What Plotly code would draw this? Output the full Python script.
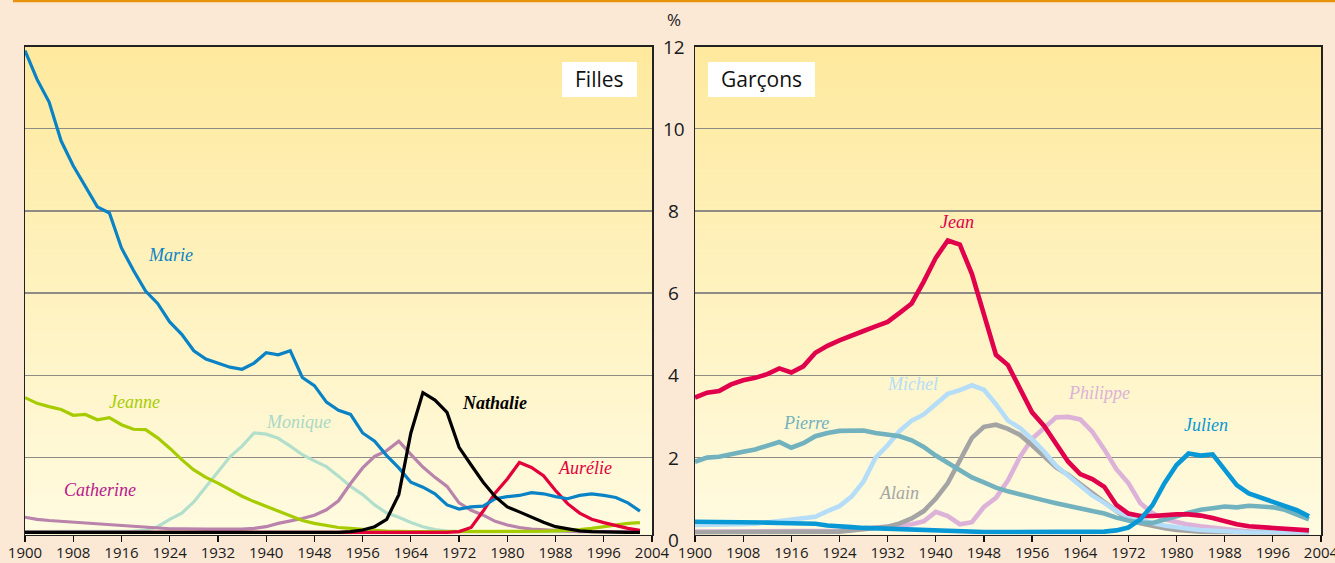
import plotly.graph_objects as go

# ---------------- data (share of births, %) ----------------
YEARS = list(range(1900, 2003, 2))
TICK_YEARS = list(range(1900, 2005, 8))
Y_TICKS = [0, 2, 4, 6, 8, 10, 12]

# Filles
marie = [11.9, 11.2, 10.65, 9.7, 9.1, 8.6, 8.1, 7.95, 7.1, 6.55,
         6.05, 5.75, 5.3, 5.0, 4.6, 4.4, 4.3, 4.2, 4.15, 4.3,
         4.55, 4.5, 4.6, 3.95, 3.75, 3.35, 3.15, 3.05, 2.6, 2.4,
         2.05, 1.75, 1.4, 1.28, 1.12, 0.85, 0.75, 0.8, 0.82, 1.0,
         1.05, 1.08, 1.15, 1.12, 1.05, 1.0, 1.08, 1.12, 1.08, 1.03,
         0.9, 0.7]
jeanne = [3.46, 3.32, 3.24, 3.17, 3.03, 3.05, 2.92, 2.97, 2.8, 2.69,
          2.68, 2.48, 2.23, 1.95, 1.7, 1.52, 1.38, 1.22, 1.06, 0.93,
          0.81, 0.7, 0.57, 0.47, 0.4, 0.35, 0.3, 0.28, 0.25, 0.23,
          0.21, 0.2, 0.2, 0.2, 0.2, 0.2, 0.2, 0.2, 0.2, 0.2,
          0.2, 0.2, 0.2, 0.21, 0.22, 0.23, 0.25, 0.28, 0.32, 0.37,
          0.4, 0.42]
monique = [0.2, 0.2, 0.2, 0.2, 0.2, 0.2, 0.2, 0.2, 0.2, 0.21,
           0.23, 0.32, 0.5, 0.65, 0.92, 1.28, 1.65, 2.02, 2.28, 2.6,
           2.57, 2.47, 2.28, 2.07, 1.92, 1.78, 1.55, 1.3, 1.1, 0.85,
           0.65, 0.55, 0.42, 0.32, 0.25, 0.21, 0.2, 0.2, 0.2, 0.2,
           0.2, 0.2, 0.2, 0.2, 0.2, 0.2, 0.2, 0.2, 0.2, 0.2,
           0.2, 0.2]
catherine = [0.55, 0.5, 0.47, 0.45, 0.42, 0.41, 0.38, 0.36, 0.34, 0.32,
             0.3, 0.28, 0.27, 0.27, 0.26, 0.26, 0.26, 0.26, 0.26, 0.28,
             0.32, 0.4, 0.45, 0.52, 0.6, 0.73, 0.95, 1.37, 1.75, 2.03,
             2.17, 2.4, 2.08, 1.77, 1.52, 1.3, 0.9, 0.72, 0.6, 0.45,
             0.36, 0.3, 0.26, 0.24, 0.22, 0.21, 0.2, 0.2, 0.2, 0.2,
             0.2, 0.2]
nathalie = [0.18, 0.18, 0.18, 0.18, 0.18, 0.18, 0.18, 0.18, 0.18, 0.18,
            0.18, 0.18, 0.18, 0.18, 0.18, 0.18, 0.18, 0.18, 0.18, 0.18,
            0.18, 0.18, 0.18, 0.18, 0.18, 0.18, 0.18, 0.2, 0.24, 0.32,
            0.5, 1.1, 2.6, 3.58, 3.4, 3.1, 2.25, 1.82, 1.4, 1.05,
            0.8, 0.68, 0.55, 0.43, 0.32, 0.27, 0.22, 0.2, 0.19, 0.18,
            0.18, 0.18]
aurelie = [0.18, 0.18, 0.18, 0.18, 0.18, 0.18, 0.18, 0.18, 0.18, 0.18,
           0.18, 0.18, 0.18, 0.18, 0.18, 0.18, 0.18, 0.18, 0.18, 0.18,
           0.18, 0.18, 0.18, 0.18, 0.18, 0.18, 0.18, 0.18, 0.18, 0.18,
           0.18, 0.18, 0.18, 0.18, 0.18, 0.18, 0.2, 0.3, 0.7, 1.14,
           1.48, 1.88, 1.76, 1.56, 1.2, 0.88, 0.65, 0.5, 0.42, 0.34,
           0.28, 0.23]

# Garçons
jean = [3.46, 3.58, 3.62, 3.78, 3.88, 3.94, 4.03, 4.17, 4.07, 4.22,
        4.55, 4.72, 4.85, 4.98, 5.08, 5.19, 5.3, 5.52, 5.75, 6.28,
        6.86, 7.28, 7.18, 6.47, 5.5, 4.5, 4.25, 3.68, 3.1, 2.77,
        2.35, 1.9, 1.6, 1.48, 1.29, 0.85, 0.64, 0.58, 0.58, 0.61,
        0.62, 0.62, 0.59, 0.53, 0.45, 0.38, 0.33, 0.31, 0.29, 0.27,
        0.25, 0.23]
pierre = [1.9, 2.0, 2.02, 2.07, 2.14, 2.2, 2.28, 2.38, 2.24, 2.35,
          2.52, 2.6, 2.65, 2.66, 2.66, 2.6, 2.56, 2.52, 2.42, 2.26,
          2.05, 1.88, 1.68, 1.52, 1.4, 1.27, 1.18, 1.1, 1.03, 0.96,
          0.89, 0.82, 0.76, 0.7, 0.64, 0.54, 0.47, 0.42, 0.41, 0.48,
          0.57, 0.66, 0.73, 0.77, 0.81, 0.79, 0.83, 0.81, 0.79, 0.73,
          0.62, 0.5]
michel = [0.36, 0.36, 0.37, 0.37, 0.38, 0.39, 0.42, 0.45, 0.49, 0.52,
          0.56, 0.7, 0.82, 1.05, 1.42, 2.0, 2.3, 2.65, 2.9, 3.05,
          3.3, 3.55, 3.64, 3.76, 3.65, 3.3, 2.9, 2.72, 2.45, 2.15,
          1.8, 1.55, 1.3, 1.08, 0.9, 0.7, 0.57, 0.48, 0.41, 0.35,
          0.3, 0.27, 0.24, 0.22, 0.2, 0.19, 0.18, 0.18, 0.18, 0.18,
          0.18, 0.18]
alain = [0.18, 0.18, 0.18, 0.18, 0.18, 0.18, 0.18, 0.18, 0.18, 0.18,
         0.18, 0.18, 0.2, 0.23, 0.26, 0.3, 0.32, 0.4, 0.52, 0.7,
         1.0, 1.38, 1.94, 2.48, 2.75, 2.8, 2.7, 2.55, 2.3, 2.02,
         1.76, 1.58, 1.35, 1.13, 0.92, 0.7, 0.5, 0.4, 0.33, 0.28,
         0.24, 0.21, 0.2, 0.19, 0.18, 0.18, 0.18, 0.18, 0.18, 0.18,
         0.18, 0.18]
philippe = [0.2, 0.2, 0.2, 0.2, 0.2, 0.2, 0.2, 0.2, 0.2, 0.2,
            0.2, 0.2, 0.22, 0.25, 0.27, 0.3, 0.32, 0.35, 0.38, 0.45,
            0.68, 0.58, 0.38, 0.43, 0.8, 1.02, 1.45, 2.02, 2.46, 2.73,
            2.98, 2.99, 2.93, 2.63, 2.2, 1.72, 1.38, 0.89, 0.65, 0.5,
            0.43, 0.37, 0.33, 0.29, 0.26, 0.23, 0.21, 0.2, 0.19, 0.18,
            0.18, 0.18]
julien = [0.44, 0.44, 0.43, 0.43, 0.43, 0.42, 0.42, 0.41, 0.4, 0.41,
          0.39, 0.35, 0.32, 0.31, 0.29, 0.28, 0.27, 0.25, 0.23, 0.22,
          0.21, 0.2, 0.19, 0.19, 0.19, 0.19, 0.19, 0.19, 0.19, 0.19,
          0.19, 0.19, 0.19, 0.19, 0.2, 0.23, 0.3, 0.5, 0.84, 1.38,
          1.82, 2.1, 2.05, 2.08, 1.7, 1.33, 1.13, 1.02, 0.93, 0.83,
          0.72, 0.57]

# name, values, line colour, label text, label colour, label year, label value
GIRLS = [
    ("Monique", monique, "#b2dfcc", "Monique", "#a9d8c6", 1945.3, 2.86),
    ("Catherine", catherine, "#b983ab", "Catherine", "#b8198c", 1912.4, 1.21),
    ("Jeanne", jeanne, "#a6cc00", "Jeanne", "#a6cc00", 1918.2, 3.35),
    ("Aurélie", aurelie, "#e3003a", "Aurélie", "#e3003a", 1992.9, 1.75),
    ("Marie", marie, "#0a82c6", "Marie", "#0a82c6", 1924.2, 6.92),
    ("Nathalie", nathalie, "#000000", "<b>Nathalie</b>", "#000000", 1977.9, 3.33),
]
BOYS = [
    ("Philippe", philippe, "#dcb2d8", "Philippe", "#dcb2d8", 1967.1, 3.57),
    ("Alain", alain, "#a4a4a4", "Alain", "#a4a4a4", 1933.9, 1.14),
    ("Michel", michel, "#b5ddf8", "Michel", "#b5ddf8", 1936.2, 3.79),
    ("Pierre", pierre, "#71b2be", "Pierre", "#71b2be", 1918.4, 2.84),
    ("Jean", jean, "#e0004c", "Jean", "#e0004c", 1943.5, 7.74),
    ("Julien", julien, "#0898d6", "Julien", "#0898d6", 1984.9, 2.79),
]

# ---------------- layout geometry ----------------
W, H = 1335, 563
Y_RANGE = [0.13, 12]
X_RANGE = [1900, 2004]
XDOM1 = [25 / W, 652 / W]
XDOM2 = [695 / W, 1321 / W]
YDOM = [(H - 534.5) / H, (H - 46.5) / H]

fig = go.Figure()

for name, vals, col, *_ in GIRLS:
    fig.add_trace(go.Scatter(x=YEARS, y=vals, mode="lines", name=name,
                             line=dict(color=col, width=3.2),
                             xaxis="x", yaxis="y", hoverinfo="skip"))
for name, vals, col, *_ in BOYS:
    fig.add_trace(go.Scatter(x=YEARS, y=vals, mode="lines", name=name,
                             line=dict(color=col, width=4.6),
                             xaxis="x2", yaxis="y2", hoverinfo="skip"))

tickfont = dict(family="Open Sans", size=15, color="#1a1a1a")
xcommon = dict(range=X_RANGE, tickvals=TICK_YEARS, ticks="outside", ticklen=6,
               tickcolor="#111", tickwidth=1.2, showline=True, linecolor="#222",
               linewidth=1.5, mirror=True, showgrid=False, zeroline=False,
               tickfont=tickfont, fixedrange=True, automargin=False,
               ticklabeloverflow="allow", ticklabelstandoff=-2)
ycommon = dict(range=Y_RANGE, tickvals=Y_TICKS, showticklabels=False,
               showgrid=True, gridcolor="#8e8b84", gridwidth=1.5,
               showline=True, linecolor="#222", linewidth=1.5, mirror=True,
               zeroline=False, ticks="", fixedrange=True, automargin=False)

fig.update_layout(
    width=W, height=H,
    margin=dict(l=0, r=0, t=0, b=0, pad=0, autoexpand=False),
    paper_bgcolor="#fbe9d6", plot_bgcolor="#fef3c4", showlegend=False,
    xaxis=dict(domain=XDOM1, anchor="y", **xcommon),
    yaxis=dict(domain=YDOM, anchor="x", **ycommon),
    xaxis2=dict(domain=XDOM2, anchor="y2", **xcommon),
    yaxis2=dict(domain=YDOM, anchor="x2", **ycommon),
)

# gradient plot backgrounds
shapes = []
N = 60
top_c = (254, 233, 158)
bot_c = (255, 251, 224)
for xr, yr in (("x domain", "y domain"), ("x2 domain", "y2 domain")):
    for i in range(N):
        t = i / (N - 1)
        c = tuple(round(bot_c[k] + (top_c[k] - bot_c[k]) * t) for k in range(3))
        shapes.append(dict(type="rect", xref=xr, yref=yr, x0=0, x1=1,
                           y0=i / N, y1=(i + 1) / N + 0.002, layer="below",
                           line=dict(width=0), fillcolor="rgb(%d,%d,%d)" % c))
# orange rule at top of page
shapes.append(dict(type="line", xref="paper", yref="paper", x0=13 / W, x1=1,
                   y0=1 - 1 / H, y1=1 - 1 / H, line=dict(color="#e8920c", width=2.5)))
# white title boxes
shapes.append(dict(type="rect", xref="x domain", yref="y domain",
                   x0=0.8565, x1=0.976, y0=0.8965, y1=0.968,
                   fillcolor="white", line=dict(width=0)))
shapes.append(dict(type="rect", xref="x2 domain", yref="y2 domain",
                   x0=0.0208, x1=0.1917, y0=0.8965, y1=0.968,
                   fillcolor="white", line=dict(width=0)))
fig.update_layout(shapes=shapes)

ann = []
ann.append(dict(text="Filles", xref="x domain", yref="y domain", x=0.9163, y=0.9324,
                xanchor="center", yanchor="middle", showarrow=False,
                font=dict(family="Open Sans", size=21, color="#111")))
ann.append(dict(text="Garçons", xref="x2 domain", yref="y2 domain", x=0.1062, y=0.9324,
                xanchor="center", yanchor="middle", showarrow=False,
                font=dict(family="Open Sans", size=21, color="#111")))


def ypaper(v):
    return YDOM[0] + (v - Y_RANGE[0]) / (Y_RANGE[1] - Y_RANGE[0]) * (YDOM[1] - YDOM[0])


for v in Y_TICKS:
    ann.append(dict(text=str(v), xref="paper", yref="paper", x=674 / W, y=ypaper(v),
                    xanchor="center", yanchor="middle", showarrow=False,
                    font=dict(family="Open Sans", size=19, color="#1a1a1a")))
ann.append(dict(text="%", xref="paper", yref="paper", x=674 / W, y=(H - 20) / H,
                xanchor="center", yanchor="middle", showarrow=False,
                font=dict(family="Open Sans", size=17, color="#1a1a1a")))

for group, xr, yr in ((GIRLS, "x", "y"), (BOYS, "x2", "y2")):
    for name, vals, col, label, lcol, lx, ly in group:
        ann.append(dict(text="<i>%s</i>" % label, xref=xr, yref=yr, x=lx, y=ly,
                        showarrow=False, xanchor="center", yanchor="middle",
                        font=dict(family="Liberation Serif", size=18, color=lcol)))
fig.update_layout(annotations=ann)

fig.write_html(
    "out.html",
    config={"displayModeBar": False, "staticPlot": True},
    post_script="document.body.style.margin='0';document.body.style.overflow='hidden';",
)
